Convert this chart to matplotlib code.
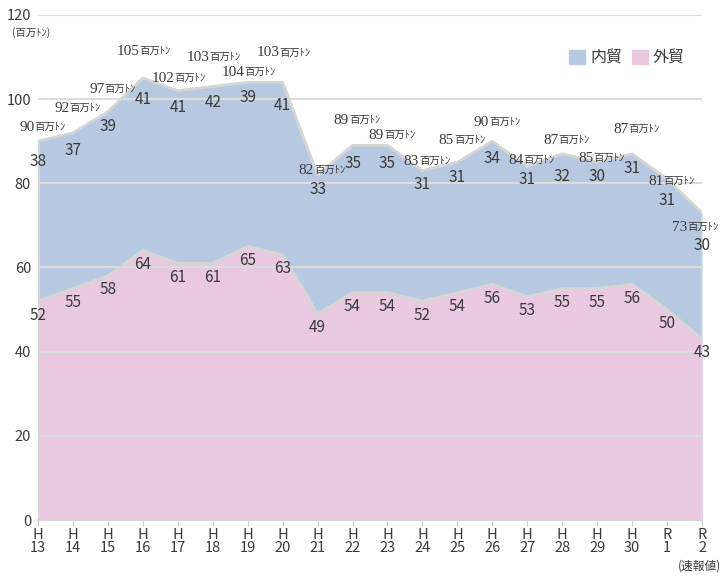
import numpy as np
import matplotlib.pyplot as plt
from matplotlib.patches import Patch

plt.rcParams['font.family'] = ['Noto Sans CJK JP', 'DejaVu Sans']

# fiscal years (two-line tick labels)
years = ['H\n13', 'H\n14', 'H\n15', 'H\n16', 'H\n17', 'H\n18', 'H\n19', 'H\n20',
         'H\n21', 'H\n22', 'H\n23', 'H\n24', 'H\n25', 'H\n26', 'H\n27', 'H\n28',
         'H\n29', 'H\n30', 'R\n1', 'R\n2']
gaibou = [52, 55, 58, 64, 61, 61, 65, 63, 49, 54, 54, 52, 54, 56, 53, 55, 55, 56, 50, 43]
naibou = [38, 37, 39, 41, 41, 42, 39, 41, 33, 35, 35, 31, 31, 34, 31, 32, 30, 31, 31, 30]
totals = [90, 92, 97, 105, 102, 103, 104, 103, 82, 89, 89, 83, 85, 90, 84, 87, 85, 87, 81, 73]

# label placement tweaks (offsets from the area top, in data units)
total_off = [3.6, 6.1, 5.7, 6.7, 3.3, 7.3, 2.7, 7.3, 1.4, 6.3, 2.7, 2.6, 5.5, 4.8, 1.8, 3.5, 1.3, 6.1, -0.2, -3.1]
total_dx = [0] * 19 + [-8]   # points, last label pulled in from the edge
naibou_off = [-4.9, -4.3, -3.6, -5.2, -4.1, -3.9, -3.7, -5.5, -3.6, -4.4, -4.2, -3.4, -3.7, -4.2, -3.0, -5.5, -3.5, -3.6, -5.2, -7.9]

col_gai = '#e8c9e0'
col_nai = '#b7c9e1'
edge = '#d6d6d6'
txt = '#3a3a3a'

x = np.arange(len(years))
g = np.array(gaibou)
top = g + np.array(naibou)

fig = plt.figure(figsize=(7.21, 5.76), dpi=100)
ax = fig.add_axes([0.0527, 0.0972, 0.921, 0.877])

ax.fill_between(x, 0, top, color=col_nai, lw=0, zorder=1)
ax.fill_between(x, 0, g, color=col_gai, lw=0, zorder=2)
ax.set_ylim(0, 120)
ax.set_xlim(0, 19)

# grid lines over the fills
for yv in range(20, 121, 20):
    ax.axhline(yv, color='#dcdcdc', lw=1.5, zorder=3)
ax.plot(x, top, color=edge, lw=2, zorder=4)
ax.plot(x, g, color=edge, lw=2, zorder=4)
ax.plot([0, 0], [0, top[0]], color=edge, lw=2, zorder=4)
ax.plot([19, 19], [0, top[-1]], color=edge, lw=2, zorder=4)

for s in ['top', 'right', 'left']:
    ax.spines[s].set_visible(False)
ax.spines['bottom'].set_color('#d6d6d6')
ax.spines['bottom'].set_linewidth(1.5)

ax.set_yticks(range(0, 121, 20))
ax.tick_params(axis='y', length=0, labelsize=10.5, colors=txt, pad=5)
ax.set_xticks(x)
ax.set_xticklabels(years, linespacing=0.85)
ax.tick_params(axis='x', length=4, color='#cfcfcf', labelsize=10.5, colors=txt, pad=2)

for i in range(len(x)):
    ax.text(x[i], g[i] - 3.3, str(gaibou[i]), ha='center', va='center',
            fontsize=11, color=txt, zorder=5)
    ax.text(x[i], top[i] + naibou_off[i], str(naibou[i]), ha='center', va='center',
            fontsize=11, color=txt, zorder=5)
    yl = top[i] + total_off[i]
    ax.annotate(str(totals[i]), (x[i], yl), xytext=(-2.5 + total_dx[i], 0),
                textcoords='offset points', ha='right', va='center_baseline',
                fontsize=11, color=txt, zorder=5, family='Liberation Serif')
    ax.annotate('百万ﾄﾝ', (x[i], yl), xytext=(-2.5 + total_dx[i], 0),
                textcoords='offset points', ha='left', va='center_baseline',
                fontsize=7.5, color=txt, zorder=5)

fig.text(0.017, 0.937, '(百万ﾄﾝ)', fontsize=7.5, color=txt)
fig.text(0.94, 0.012, '(速報値)', fontsize=8.5, color=txt)

handles = [Patch(color=col_nai, label='内貿'), Patch(color=col_gai, label='外貿')]
ax.legend(handles=handles, loc='upper right', bbox_to_anchor=(0.995, 0.96), ncol=2,
          frameon=False, fontsize=11.5, handlelength=1.0, handleheight=1.0,
          handletextpad=0.3, columnspacing=0.6, labelcolor=txt)

fig.savefig('out.png', dpi=100)
